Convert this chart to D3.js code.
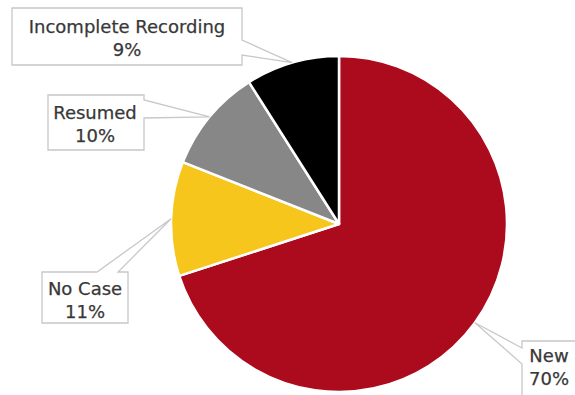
<!DOCTYPE html>
<html>
<head>
<meta charset="utf-8">
<script src="https://cdn.jsdelivr.net/npm/d3@7"></script>
<style>
  html, body { margin: 0; padding: 0; background: #fff; }
  svg { display: block; }
</style>
</head>
<body>
<svg id="chart" width="575" height="395"></svg>
<script>
// ---- data ----
const categories = ["New", "No Case", "Resumed", "Incomplete Recording"];
const values = [70, 11, 10, 9];
const percentLabels = ["70%", "11%", "10%", "9%"];
const colors = ["#AC0A1D", "#F6C61C", "#878787", "#000000"];

// ---- layout (callout boxes: rect + tail side and tail base) ----
const callouts = [
  { x0: 522, y0: 341, x1: 590, y1: 405, side: "left", a: 348, b: 364, tx: 549, ty: 356 },
  { x0: 42, y0: 272, x1: 128, y1: 323, side: "top", a: 97, b: 118, tx: 85, ty: 289 },
  { x0: 48, y0: 95, x1: 144, y1: 150, side: "right", a: 100, b: 118, tx: 95, ty: 113 },
  { x0: 12, y0: 8, x1: 242, y1: 65, side: "right", a: 40, b: 55, tx: 127, ty: 27 }
];

const svg = d3.select("#chart");
const cx = 339, cy = 224, r = 168;

const pie = d3.pie().sort(null).value(d => d)(values);
const arc = d3.arc().innerRadius(0).outerRadius(r);

const g = svg.append("g").attr("transform", `translate(${cx},${cy})`);
g.selectAll("path.slice")
  .data(pie)
  .join("path")
  .attr("class", "slice")
  .attr("d", arc)
  .attr("fill", (d, i) => colors[i])
  .attr("stroke", "#fff")
  .attr("stroke-width", 2.5)
  .attr("stroke-linejoin", "round");

// callouts
pie.forEach((d, i) => {
  const c = callouts[i];
  const ang = (d.startAngle + d.endAngle) / 2;
  const tip = [cx + r * Math.sin(ang), cy - r * Math.cos(ang)];
  let pts;
  if (c.side === "right") {
    pts = [[c.x0, c.y0], [c.x1, c.y0], [c.x1, c.a], tip, [c.x1, c.b], [c.x1, c.y1], [c.x0, c.y1]];
  } else if (c.side === "left") {
    pts = [[c.x0, c.y0], [c.x1, c.y0], [c.x1, c.y1], [c.x0, c.y1], [c.x0, c.b], tip, [c.x0, c.a]];
  } else {
    pts = [[c.x0, c.y0], [c.a, c.y0], tip, [c.b, c.y0], [c.x1, c.y0], [c.x1, c.y1], [c.x0, c.y1]];
  }
  svg.append("path")
    .attr("d", d3.line()(pts) + "Z")
    .attr("fill", "#fff")
    .attr("stroke", "#c8c8c8")
    .attr("stroke-width", 1.3);
  const t = svg.append("text")
    .attr("text-anchor", "middle")
    .attr("font-family", "DejaVu Sans, Verdana, sans-serif")
    .attr("font-size", 18)
    .attr("fill", "#383838")
    .attr("stroke", "#383838")
    .attr("stroke-width", 0.25);
  t.append("tspan").attr("x", c.tx).attr("y", c.ty).attr("dy", "0.35em").text(categories[i]);
  t.append("tspan").attr("x", c.tx).attr("y", c.ty + 23).attr("dy", "0.35em").text(percentLabels[i]);
});
</script>
</body>
</html>
